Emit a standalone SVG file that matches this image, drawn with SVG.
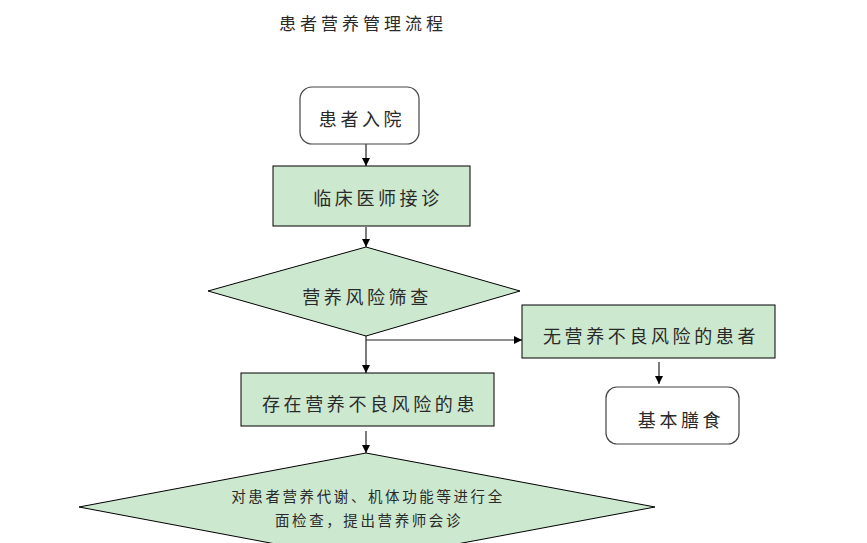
<svg xmlns="http://www.w3.org/2000/svg" width="867" height="543" viewBox="0 0 867 543">
<style>
text{font-family:"Noto Sans CJK SC","Noto Sans CJK JP",sans-serif;fill:#2a2a2a;text-anchor:middle;dominant-baseline:central}
.box{fill:#CCE8CF;stroke:#000;stroke-width:1}
.term{fill:#fff;stroke:#444;stroke-width:1.2}
.con{stroke:#222;stroke-width:1.2;fill:none}
.t20{font-size:18px;letter-spacing:3.6px}
.t15{font-size:14.5px;letter-spacing:2.6px}
</style>
<defs>
<marker id="ah" viewBox="0 0 10 10" refX="10" refY="5" markerWidth="8" markerHeight="8" markerUnits="userSpaceOnUse" orient="auto">
<path d="M0,0 L10,5 L0,10 z" fill="#000"/>
</marker>
</defs>
<rect width="867" height="543" fill="#fff"/>
<text x="363" y="22" style="font-size:17px;letter-spacing:4px">患者营养管理流程</text>
<g id="connectors">
<line class="con" x1="366" y1="144" x2="366" y2="166" marker-end="url(#ah)"/>
<line class="con" x1="366" y1="227" x2="366" y2="247" marker-end="url(#ah)"/>
<line class="con" x1="366" y1="336" x2="366" y2="373" marker-end="url(#ah)"/>
<line class="con" x1="366" y1="340" x2="522" y2="340" marker-end="url(#ah)"/>
<line class="con" x1="659" y1="362" x2="659" y2="384" marker-end="url(#ah)"/>
<line class="con" x1="366" y1="431" x2="366" y2="453" marker-end="url(#ah)"/>
</g>
<g id="n-start">
<rect class="term" x="300" y="87" width="119" height="57" rx="12"/>
<text class="t20" x="362" y="118">患者入院</text>
</g>
<g id="n-doctor">
<rect class="box" x="273" y="166" width="197" height="60"/>
<text class="t20" x="378" y="197">临床医师接诊</text>
</g>
<g id="n-screen">
<polygon class="box" points="366,247 520,291 366,336 208,291"/>
<text class="t20" x="367" y="296">营养风险筛查</text>
</g>
<g id="n-norisk">
<rect class="box" x="522" y="305" width="253" height="53"/>
<text class="t20" x="651" y="335">无营养不良风险的患者</text>
</g>
<g id="n-diet">
<rect class="term" x="606" y="387" width="133" height="57" rx="11"/>
<text class="t20" x="681" y="419">基本膳食</text>
</g>
<g id="n-risk">
<rect class="box" x="241" y="373" width="253" height="53"/>
<text class="t20" x="370" y="403">存在营养不良风险的患</text>
</g>
<g id="n-exam">
<polygon class="box" points="366,453 655,507 366,561 79,507"/>
<text class="t15" x="368" y="495">对患者营养代谢、机体功能等进行全</text>
<text class="t15" x="369" y="519">面检查，提出营养师会诊</text>
</g>
</svg>
